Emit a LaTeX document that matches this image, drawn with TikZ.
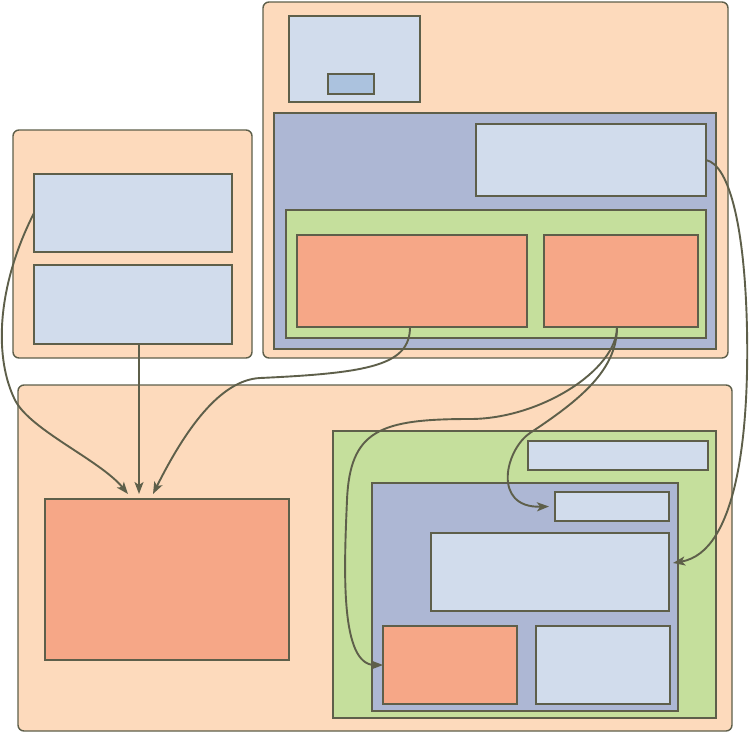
\documentclass[tikz,border=0pt]{standalone}
\usetikzlibrary{arrows.meta,fit}
\definecolor{edge}{HTML}{5E5F4A}
\definecolor{peach}{HTML}{FDDABC}
\definecolor{pale}{HTML}{D1DCEC}
\definecolor{slate}{HTML}{ADB7D4}
\definecolor{leaf}{HTML}{C5DF9C}
\definecolor{coral}{HTML}{F6A787}
\definecolor{chipblue}{HTML}{ABC2DE}
\tikzset{
  grp/.style={draw=edge,line width=1.4pt,fill=peach,rounded corners=6pt,inner sep=0pt,outer sep=0pt},
  box/.style={draw=edge,line width=2.1pt,inner sep=0pt,outer sep=0pt},
  arr/.style={draw=edge,line width=1.9pt,-{Stealth[length=12pt,width=9pt,inset=3pt]}}
}
\begin{document}
\begin{tikzpicture}[x=1pt,y=-1pt]
\useasboundingbox(0,0)rectangle(749,734);
% left group
\node[grp,fit={(13,130)(252,358)}](grpL){};
\node[box,fill=pale,fit={(34,174)(232,252)}](inA){};
\node[box,fill=pale,fit={(34,265)(232,344)}](inB){};
% top group
\node[grp,fit={(263,2)(728,358)}](grpT){};
\node[box,fill=pale,fit={(289,16)(420,102)}](topcard){};
\node[box,fill=chipblue,fit={(328,74)(374,94)}](topchip){};
\node[box,fill=slate,fit={(274,113)(716,349)}](panel){};
\node[box,fill=pale,fit={(476,124)(706,196)}](panelcard){};
\node[box,fill=leaf,fit={(286,210)(706,338)}](tray){};
\node[box,fill=coral,fit={(297,235)(527,327)}](hotA){};
\node[box,fill=coral,fit={(544,235)(698,327)}](hotB){};
% bottom group
\node[grp,fit={(18,385)(732,731)}](grpB){};
\node[box,fill=coral,fit={(45,499)(289,660)}](sink){};
\node[box,fill=leaf,fit={(333,431)(716,718)}](yard){};
\node[box,fill=pale,fit={(528,441)(708,470)}](yardbar){};
\node[box,fill=slate,fit={(372,483)(678,711)}](core){};
\node[box,fill=pale,fit={(555,492)(669,521)}](corechip){};
\node[box,fill=pale,fit={(431,533)(669,611)}](corecard){};
\node[box,fill=coral,fit={(383,626)(517,704)}](corehot){};
\node[box,fill=pale,fit={(536,626)(670,704)}](corecard2){};
% links
\draw[arr](inA.west)..controls(-5,290)and(-5,360)..(15,400)..controls(30,430)and(100,460)..([shift={(-39pt,5pt)}]sink.north);
\draw[arr]([xshift=6pt]inB.south)--([shift={(6pt,5pt)}]inB.south|-sink.north);
\draw[arr]([xshift=-2pt]hotA.south)..controls(410,365)and(370,373)..(260,378)..controls(220,380)and(185,430)..([shift={(-14pt,5pt)}]sink.north);
\draw[arr]([xshift=-4pt]hotB.south)..controls(617,370)and(540,419)..(470,419)..controls(380,419)and(350,430)..(347,500)..controls(344,570)and(340,665)..(corehot.west);
\draw[arr]([xshift=-4pt]hotB.south)..controls(617,370)and(580,400)..(530,433)..controls(505,450)and(492,508)..([xshift=-6pt]corechip.west);
\draw[arr](panelcard.east)..controls(730,165)and(745,230)..(747,330)..controls(749,430)and(738,552)..([shift={(4pt,9pt)}]corecard.east);
\end{tikzpicture}
\end{document}
